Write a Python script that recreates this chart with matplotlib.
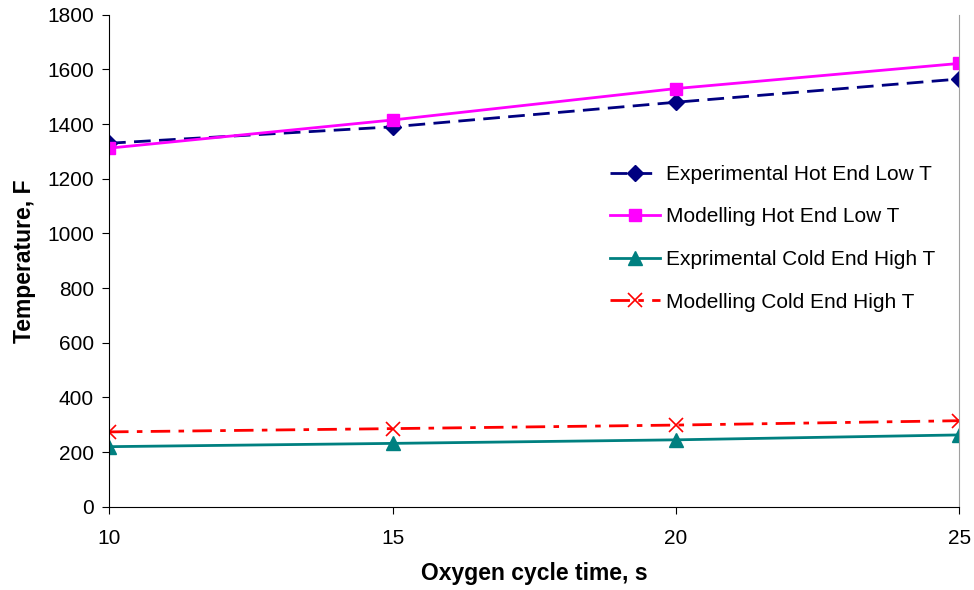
import matplotlib
matplotlib.use('Agg')
import matplotlib.pyplot as plt

plt.rcParams['font.family'] = 'Liberation Sans'

# Data
cycle_time = [10, 15, 20, 25]
exp_hot = [1330, 1390, 1480, 1565]
mod_hot = [1312, 1415, 1530, 1622]
exp_cold = [220, 232, 245, 263]
mod_cold = [274, 286, 299, 315]

fig = plt.figure(figsize=(9.74, 5.9), dpi=100)
ax = fig.add_axes([0.112, 0.141, 0.873, 0.834])

ax.plot(cycle_time, exp_hot, color='#000080', linestyle=(0, (6, 3)), linewidth=2,
        marker='D', markersize=8, label='Experimental Hot End Low T')
ax.plot(cycle_time, mod_hot, color='#FF00FF', linestyle='-', linewidth=2,
        marker='s', markersize=8, label='Modelling Hot End Low T')
ax.plot(cycle_time, exp_cold, color='#008080', linestyle='-', linewidth=2,
        marker='^', markersize=10, label='Exprimental Cold End High T')
ax.plot(cycle_time, mod_cold, color='#FF0000', linestyle=(0, (7, 3, 2, 3)), linewidth=2,
        marker='x', markersize=10, markeredgewidth=1.2, label='Modelling Cold End High T')

ax.set_xlim(10, 25)
ax.set_ylim(0, 1800)
ax.set_xticks(cycle_time)
ax.set_yticks(range(0, 1801, 200))
ax.tick_params(labelsize=15, direction='out', length=5)
ax.tick_params(axis='x', pad=11)
ax.tick_params(axis='y', pad=6, right=False)

ax.spines['top'].set_visible(False)
ax.spines['right'].set_color('#a0a0a0')
ax.spines['right'].set_linewidth(0.8)

ax.set_xlabel('Oxygen cycle time, s', fontsize=16.5, fontweight='bold', labelpad=10)
ax.set_ylabel('Temperature, F', fontsize=16.5, fontweight='bold', labelpad=8)

ax.legend(loc='upper left', bbox_to_anchor=(0.567, 0.733), frameon=False,
          fontsize=15, labelspacing=1.13, handlelength=2.4, handletextpad=0.3)

plt.savefig('out.png', dpi=100)
